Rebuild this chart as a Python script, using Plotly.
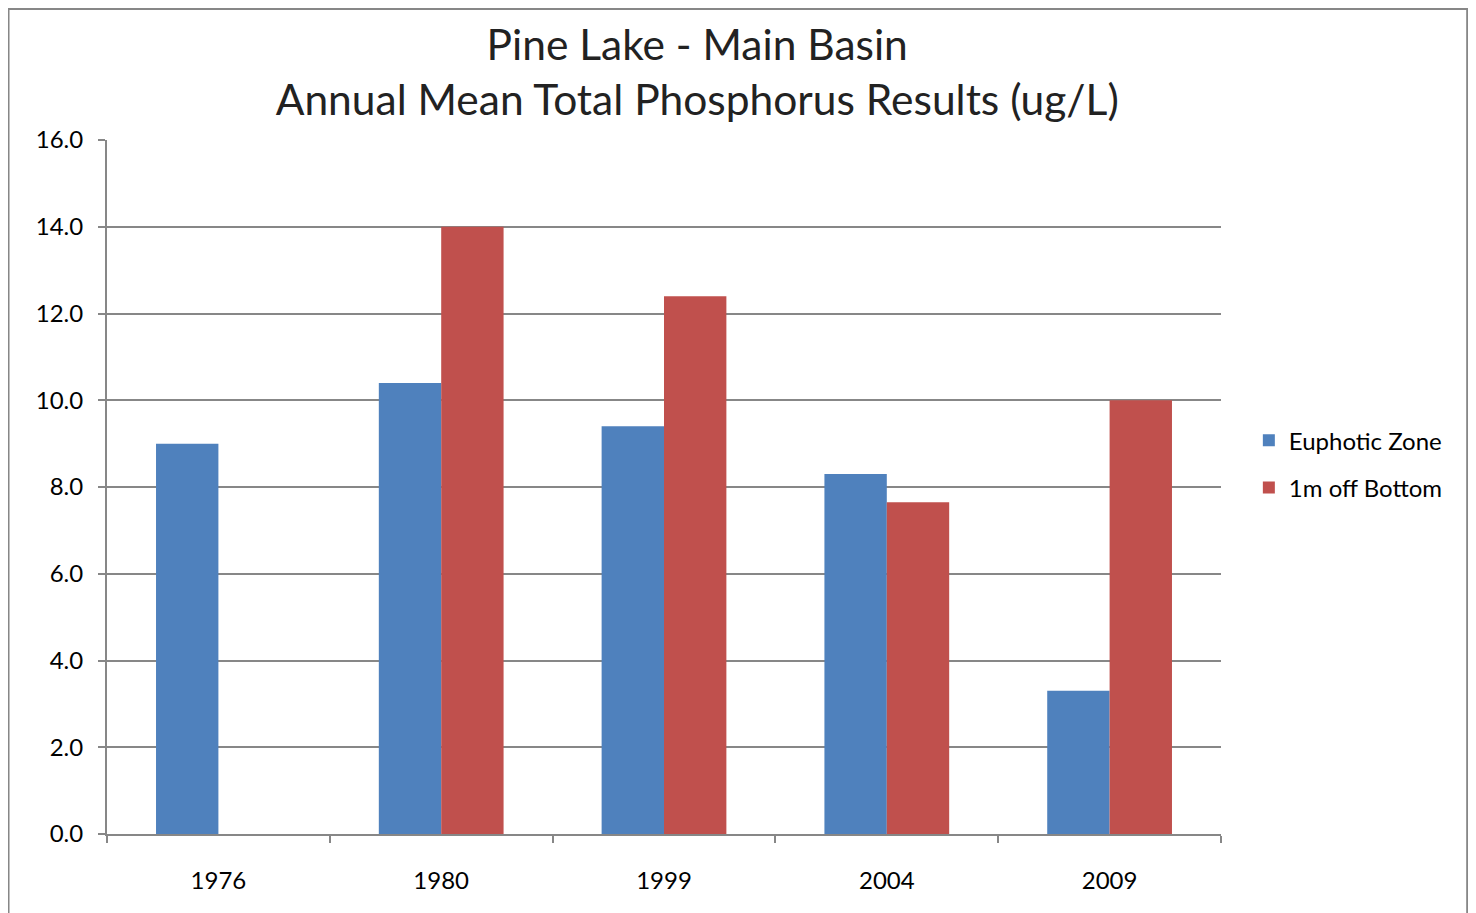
import plotly.graph_objects as go

years     = ['1976', '1980', '1999', '2004', '2009']
euphotic  = [9.0, 10.4, 9.4, 8.3, 3.3]
bottom_1m = [None, 14.0, 12.4, 7.65, 10.0]
y_ticks   = [0, 2, 4, 6, 8, 10, 12, 14, 16]

font_name = 'Lato, Open Sans, sans-serif'
grey      = '#878787'

fig = go.Figure()

fig.add_trace(go.Bar(x           = years,
                     y           = euphotic,
                     name        = 'Euphotic Zone',
                     legendgroup = 'a',
                     marker      = dict(color = '#4F81BD', line = dict(width = 0))))

fig.add_trace(go.Bar(x           = years,
                     y           = bottom_1m,
                     name        = '1m off Bottom',
                     legendgroup = 'b',
                     marker      = dict(color = '#C0504D', line = dict(width = 0))))

fig.update_layout(width         = 1468,
                  height        = 905,
                  margin        = dict(l = 99, r = 255, t = 132, b = 79),
                  paper_bgcolor = 'white',
                  plot_bgcolor  = 'white',
                  font          = dict(family = font_name, size = 24, color = 'black'),
                  barmode       = 'group',
                  bargap        = 0.44,
                  bargroupgap   = 0,
                  title         = dict(text    = 'Pine Lake - Main Basin<br>Annual Mean Total Phosphorus Results (ug/L)',
                                       x       = 0.4695,
                                       xanchor = 'center',
                                       y       = 0.943,
                                       yanchor = 'top',
                                       font    = dict(family = font_name, size = 42.5, color = '#222222')),
                  legend        = dict(x              = 1.025,
                                       y              = 0.533,
                                       xanchor        = 'left',
                                       yanchor        = 'middle',
                                       traceorder     = 'grouped',
                                       tracegroupgap  = 13,
                                       itemwidth      = 30,
                                       font           = dict(family = font_name, size = 24)),
                  xaxis         = dict(showgrid           = False,
                                       showline           = True,
                                       linecolor          = grey,
                                       linewidth          = 2,
                                       ticks              = 'outside',
                                       tickson            = 'boundaries',
                                       ticklen            = 7,
                                       tickwidth          = 2,
                                       tickcolor          = grey,
                                       ticklabelstandoff  = 24),
                  yaxis         = dict(range              = [0, 16],
                                       tickvals           = y_ticks,
                                       tickformat         = '.1f',
                                       showgrid           = True,
                                       gridcolor          = grey,
                                       gridwidth          = 1.5,
                                       showline           = True,
                                       linecolor          = grey,
                                       linewidth          = 2,
                                       zeroline           = False,
                                       ticks              = 'outside',
                                       ticklen            = 7,
                                       tickwidth          = 2,
                                       tickcolor          = grey,
                                       ticklabelstandoff  = 10))

# outer chart border
fig.add_shape(type = 'rect', xref = 'paper', yref = 'paper',
              x0 = -0.0884, x1 = 1.221, y0 = -0.2, y1 = 1.1888,
              line = dict(color = grey, width = 2), layer = 'below')

fig.write_html("out.html")
